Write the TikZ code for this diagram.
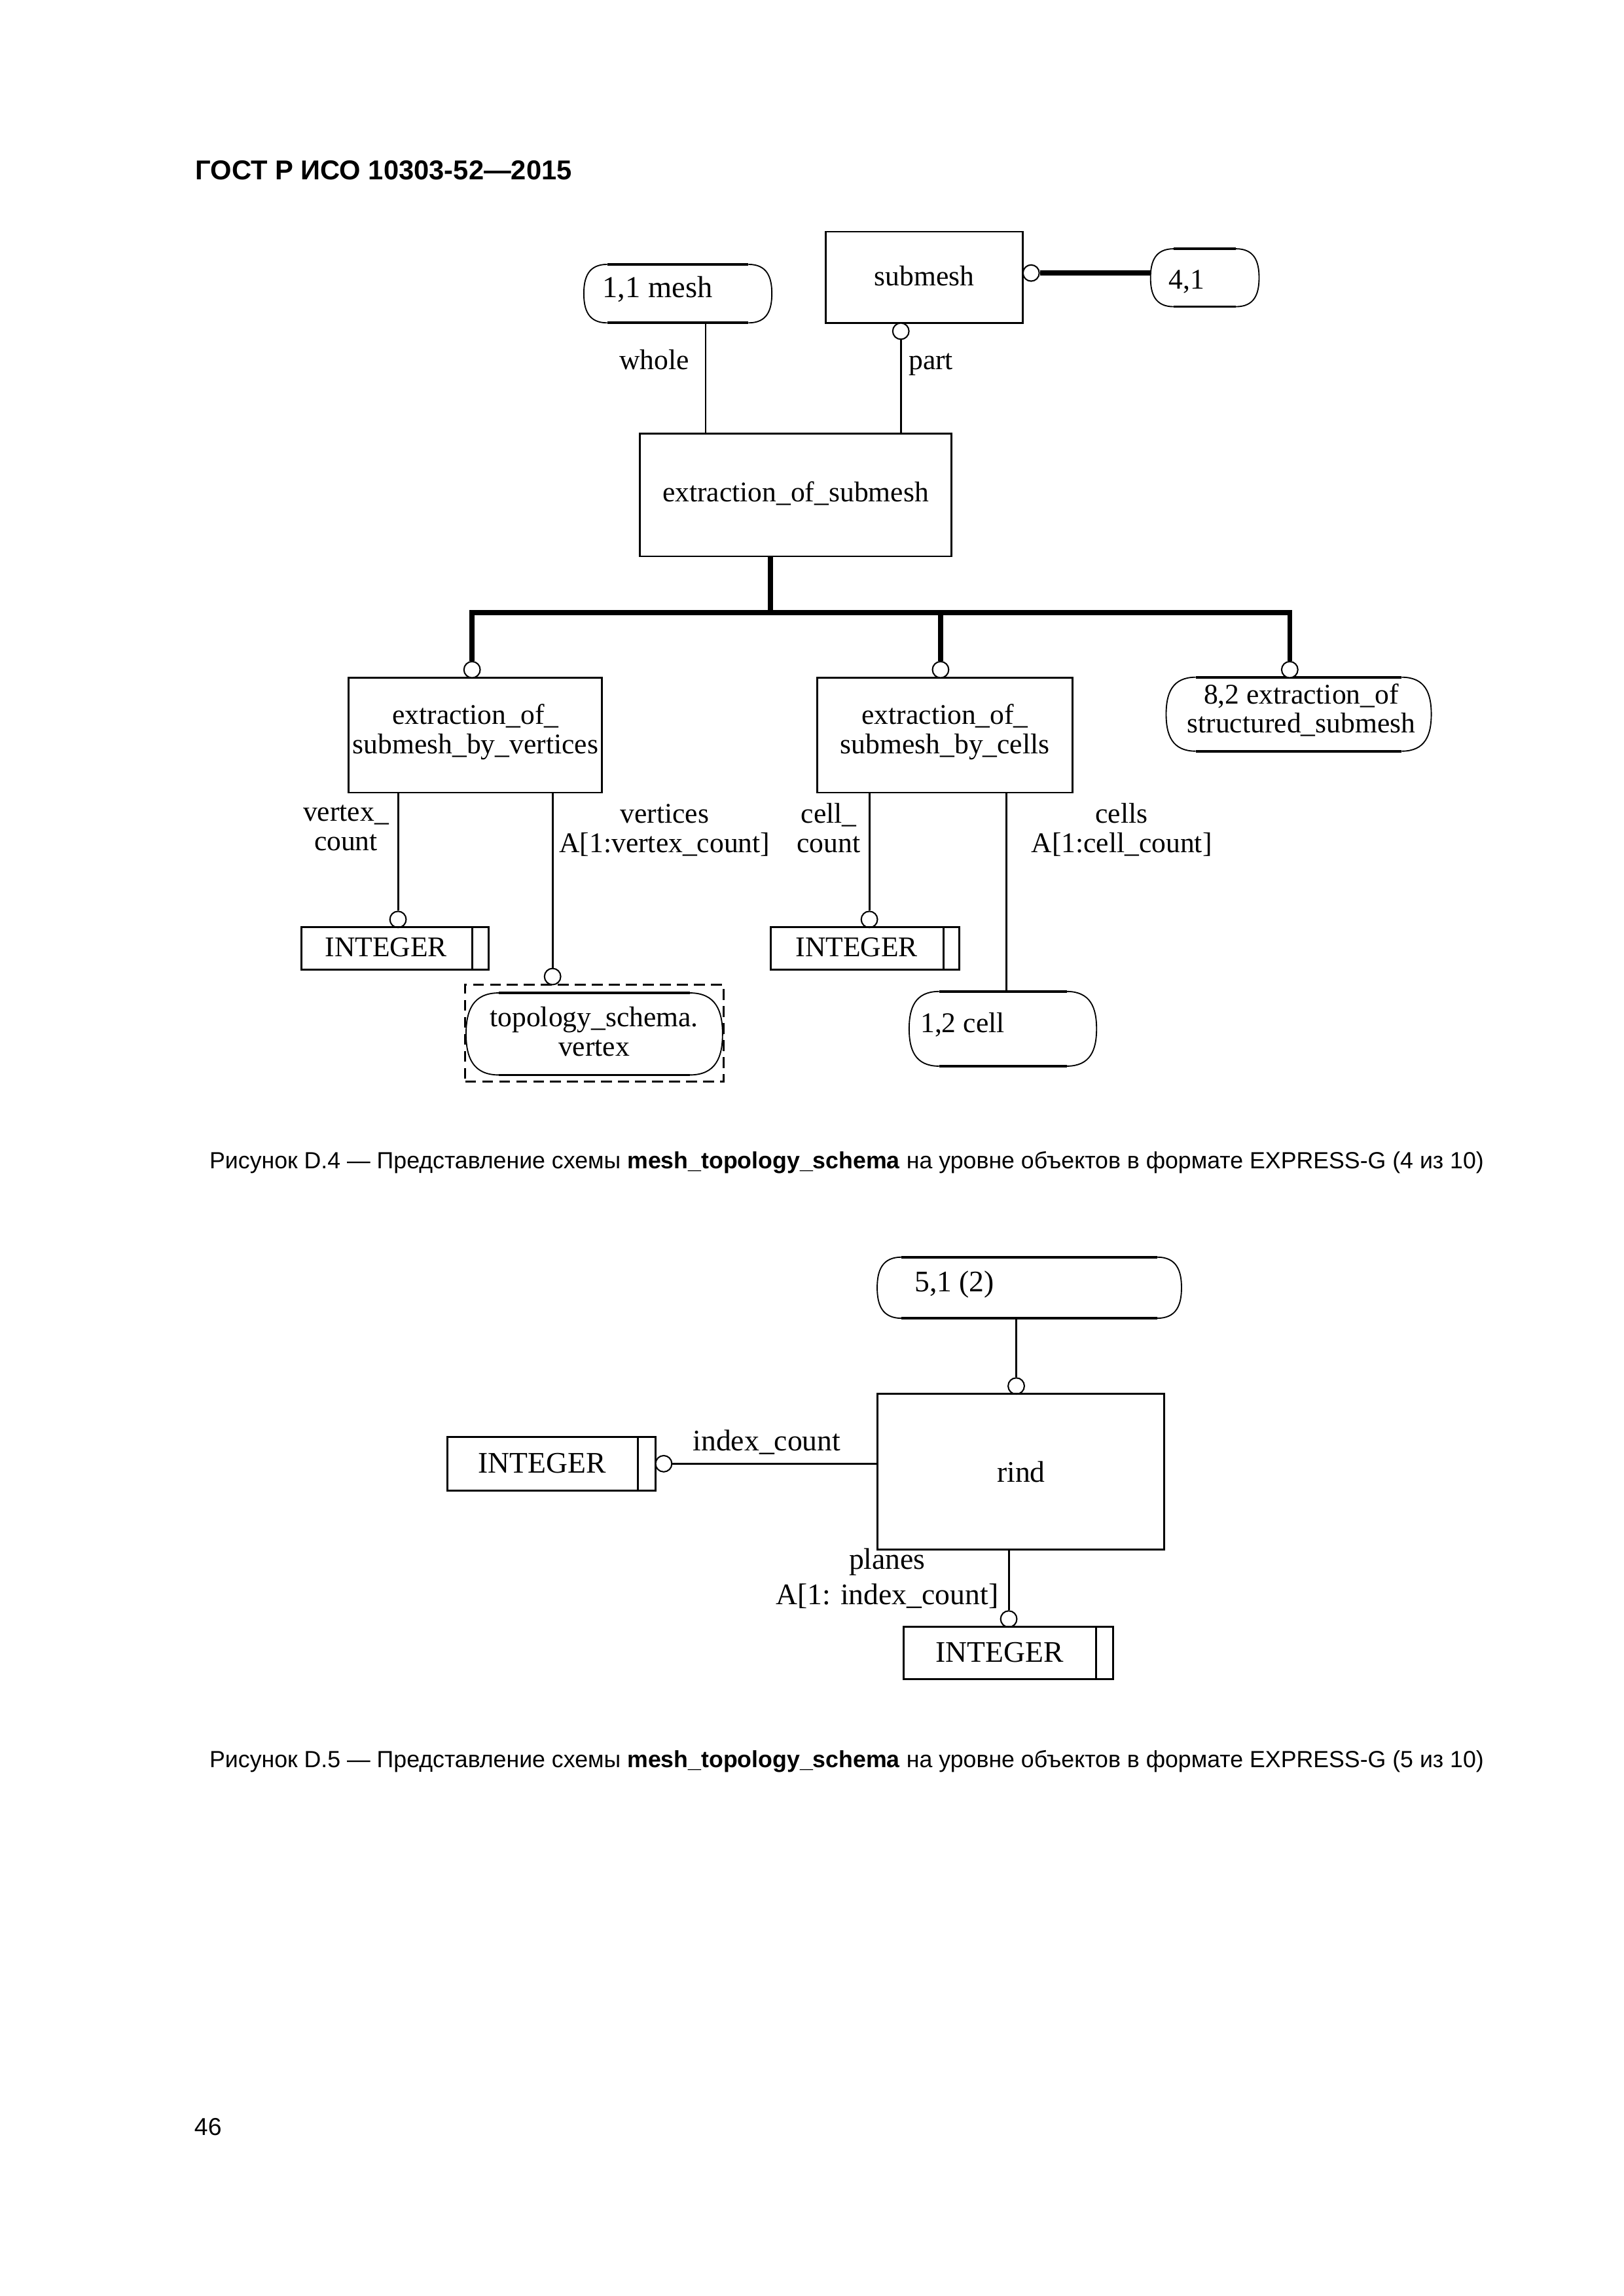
\documentclass[tikz,border=0pt]{standalone}
\usepackage{fontspec}
\setmainfont{Liberation Serif}
\newfontfamily\arialf{Liberation Sans}
\usetikzlibrary{calc,fit}
\newcommand\fsA{\fontsize{10.5}{10.8}\selectfont}
\newcommand\fsB{\fontsize{11}{13}\selectfont}
\newcommand\pgref[1]{%
 \draw[line width=0.9pt] let \p1=(#1.north west), \p2=(#1.south east), \n1={0.4*(\y1-\y2)} in
   ({\x1+\n1},\y1) -- ({\x2-\n1},\y1) ({\x1+\n1},\y2) -- ({\x2-\n1},\y2);
 \draw[line width=0.45pt] let \p1=(#1.north west), \p2=(#1.south east), \n1={0.4*(\y1-\y2)}, \n2={0.5*(\y1+\y2)}, \n3={0.22*(\y1-\y2)} in
   ({\x1+\n1},\y1) .. controls ({\x1+0.2*\n1},\y1) and (\x1,{\y1-\n3}) .. (\x1,\n2) .. controls (\x1,{\y2+\n3}) and ({\x1+0.2*\n1},\y2) .. ({\x1+\n1},\y2)
   ({\x2-\n1},\y1) .. controls ({\x2-0.2*\n1},\y1) and (\x2,{\y1-\n3}) .. (\x2,\n2) .. controls (\x2,{\y2+\n3}) and ({\x2-0.2*\n1},\y2) .. ({\x2-\n1},\y2);
}
\tikzset{
 lw/.style={line width=0.7pt},
 tk/.style={line width=1.8pt},
 box/.style={draw, line width=0.7pt, inner sep=0pt},
 ghost/.style={inner sep=0pt},
 circ/.style={draw, circle, line width=0.5pt, minimum size=0.21cm, inner sep=0pt, fill=white},
 txt/.style={inner sep=0pt},
 lbl/.style={inner sep=0pt, align=center, anchor=base},
 capt/.style={inner sep=0pt, anchor=base west, font=\arialf\fontsize{8.6}{10}\selectfont},
}
\begin{document}
\begin{tikzpicture}[x=0.019039cm,y=-0.019039cm]
\useasboundingbox (0,0) rectangle (1103,1560);
\fill[white] (0,0) rectangle (1103,1560);

% header
\node[txt, anchor=base west, font=\arialf\bfseries\fontsize{10.05}{12}\selectfont] (hdr) at (132.5,121.9) {ГОСТ Р ИСО 10303-52—2015};

% ===== D.4 =====
\begin{scope}[font=\fsA]
\node[ghost, fit={(397,180) (524,219)}] (mesh) {};
\pgref{mesh}
\node[txt, anchor=base west, font=\fontsize{11.2}{13}\selectfont] (mesht) at (409,202) {1,1 mesh};

\node[box, fit={(561,157.4) (695,219.5)}] (sub) {};
\node[txt, anchor=base] (subt) at (628,194.3) {submesh};
\node[circ] (c41) at (700.5,185.5) {};
\node[ghost, fit={(782,169.4) (855,208)}] (r41) {};
\pgref{r41}
\node[txt, anchor=base west] (r41t) at (793.6,196.3) {4,1};
\draw[tk] (c41.east) -- (c41.east -| r41.west);

\node[circ] (cpart) at (612,225) {};
\node[box, fit={(434.6,294.5) (646.3,378)}] (eos) {};
\node[txt, anchor=base] (eost) at (540.5,340.8) {extraction\_of\_submesh};
\draw[lw] (cpart.south) -- (cpart.south |- eos.north);
\coordinate (wx) at (479.4,0);
\draw[lw] (wx |- mesh.south) -- (wx |- eos.north);
\node[txt, anchor=base west] (whole) at (420.4,251) {whole};
\node[txt, anchor=base west] (part) at (617,251) {part};

% subtypes
\node[box, fit={(237,460.5) (409,538.5)}] (vb) {};
\node[lbl] (vbt) at (323,512) {extraction\_of\_\\submesh\_by\_vertices};
\node[box, fit={(555,460.5) (728.5,538.5)}] (cb) {};
\node[lbl] (cbt) at (642,512) {extraction\_of\_\\submesh\_by\_cells};
\node[ghost, fit={(792.6,460.5) (972,510)}] (r82) {};
\pgref{r82}
\node[lbl] (r82t) at (884,498) {8,2 extraction\_of\\structured\_submesh};
\node[circ] (cv) at (320.7,455) {};
\node[circ] (cc) at (639,455) {};
\node[circ] (c82) at (876.2,455) {};
\coordinate (tj) at (523.3,416.3);
\draw[tk] (tj |- eos.south) -- (tj);
\draw[tk, line join=miter] (cv.north) -- (cv.north |- tj) -- (c82.north |- tj) -- (c82.north);
\draw[tk] (cc.north |- tj) -- (cc.north);

% attributes of vertices
\node[circ] (cvc) at (270.4,624.7) {};
\node[box, fit={(204.6,630) (331.8,659)}] (int1) {};
\draw[lw] ($(int1.north east)+(-11.8,0)$) -- ($(int1.south east)+(-11.8,0)$);
\node[txt, anchor=base] (int1t) at (262.3,650) {INTEGER};
\draw[lw] (cvc.north) -- (cvc.north |- vb.south);

\node[circ] (cvs) at (375.4,663.5) {};
\node[draw, line width=0.7pt, dash pattern=on 1.4mm off 0.8mm, inner sep=0pt, fit={(316,669) (491.5,735)}] (dsh) {};
\node[ghost, fit={(317,675) (490.5,730)}] (topo) {};
\pgref{topo}
\node[lbl] (topot) at (403.6,717.6) {topology\_schema.\\vertex};
\draw[lw] (cvs.north) -- (cvs.north |- vb.south);

% attributes of cells
\node[circ] (ccc) at (590.6,624.7) {};
\node[box, fit={(523.5,630) (651.6,659)}] (int2) {};
\draw[lw] ($(int2.north east)+(-11.1,0)$) -- ($(int2.south east)+(-11.1,0)$);
\node[txt, anchor=base] (int2t) at (582,650) {INTEGER};
\draw[lw] (ccc.north) -- (ccc.north |- cb.south);

\node[ghost, fit={(618,674) (744.6,724)}] (cell) {};
\pgref{cell}
\node[txt, anchor=base west] (cellt) at (625,701.3) {1,2 cell};
\coordinate (cx) at (683.8,0);
\draw[lw] (cx |- cb.south) -- (cx |- cell.north);

% labels
\node[lbl] (l1) at (235,578) {vertex\_\\count};
\node[lbl] (l2) at (451.5,579) {vertices\\A[1:vertex\_count]};
\node[lbl] (l3) at (563,579) {cell\_\\count};
\node[lbl] (l4) at (762,579) {cells\\A[1:cell\_count]};
\end{scope}

\node[capt] (cap4) at (142,794) {Рисунок D.4 — Представление схемы \textbf{mesh\_topology\_schema} на уровне объектов в формате EXPRESS-G (4 из 10)};

% ===== D.5 =====
\begin{scope}[font=\fsB]
\node[ghost, fit={(596.3,854.5) (802.3,895.3)}] (r51) {};
\pgref{r51}
\node[txt, anchor=base west] (r51t) at (621,877.4) {5,1 (2)};
\node[circ] (crind) at (690.4,941.7) {};
\node[box, fit={(596.3,947) (791,1053)}] (rind) {};
\node[txt, anchor=base] (rindt) at (693.7,1007) {rind};
\draw[lw] (crind.north) -- (crind.north |- r51.south);

\node[box, fit={(303.8,976.5) (445.4,1012.8)}] (int3) {};
\draw[lw] ($(int3.north east)+(-12.6,0)$) -- ($(int3.south east)+(-12.6,0)$);
\node[txt, anchor=base] (int3t) at (368.3,1000.9) {INTEGER};
\node[circ] (cidx) at (450.9,994.5) {};
\draw[lw] (cidx.east) -- (cidx.east -| rind.west);
\node[txt, anchor=base west] (lidx) at (470.4,985.5) {index\_count};

\node[circ] (cpl) at (685.3,1100) {};
\node[box, fit={(614,1105.3) (756,1141)}] (int4) {};
\draw[lw] ($(int4.north east)+(-12,0)$) -- ($(int4.south east)+(-12,0)$);
\node[txt, anchor=base] (int4t) at (679,1129.5) {INTEGER};
\draw[lw] (cpl.north) -- (cpl.north |- rind.south);
\node[lbl] (lpl) at (602.7,1090) {planes\\A[1: index\_count]};
\end{scope}

\node[capt] (cap5) at (142,1201) {Рисунок D.5 — Представление схемы \textbf{mesh\_topology\_schema} на уровне объектов в формате EXPRESS-G (5 из 10)};

\node[txt, anchor=base west, font=\arialf\fontsize{9}{11}\selectfont] (pgno) at (131.7,1451) {46};
\end{tikzpicture}
\end{document}
